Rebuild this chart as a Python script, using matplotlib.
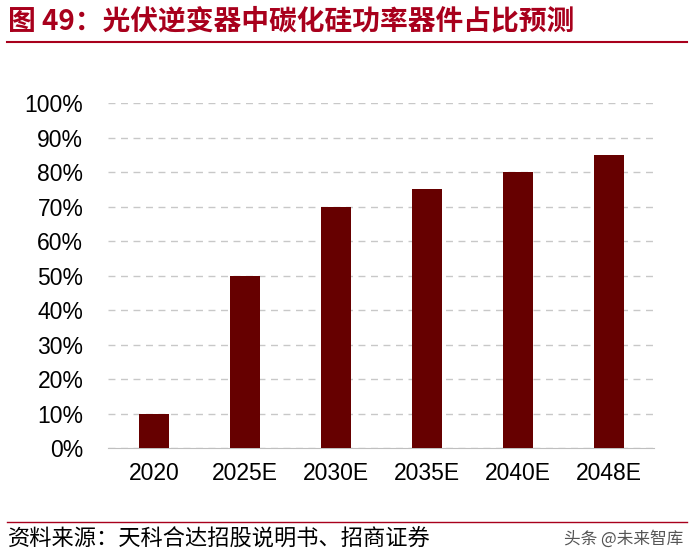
import matplotlib
matplotlib.use("Agg")
import matplotlib.pyplot as plt
from matplotlib.lines import Line2D

plt.rcParams['font.family'] = ['Noto Sans CJK SC', 'DejaVu Sans']

categories = ["2020", "2025E", "2030E", "2035E", "2040E", "2048E"]
values = [0.10, 0.50, 0.70, 0.75, 0.80, 0.85]
yticks = [i / 10 for i in range(11)]

fig = plt.figure(figsize=(6.94, 5.54), dpi=100)
ax = fig.add_axes([0.156, 0.191, 0.787, 0.623])
x = range(len(categories))
ax.bar(x, values, width=0.33, color="#660000", zorder=3)
ax.set_xlim(-0.5, 5.5)
ax.set_ylim(0, 1.0)
ax.set_yticks(yticks)
ax.set_yticklabels([f"{int(round(v*100))}%" for v in yticks], family="Liberation Sans", fontsize=16.5)
ax.set_xticks(list(x))
ax.set_xticklabels(categories, family="Liberation Sans", fontsize=16.5)
ax.yaxis.grid(True, linestyle=(0, (5, 4)), color="#c8c8c8", linewidth=1, zorder=0)
for s in ["top", "right", "left"]:
    ax.spines[s].set_visible(False)
ax.spines["bottom"].set_color("#bfbfbf")
ax.tick_params(axis="y", length=0, pad=18)
ax.tick_params(axis="x", length=0, pad=10)

fig.text(0.012, 0.962, "图 49：光伏逆变器中碳化硅功率器件占比预测", color="#a8001c",
         fontsize=20, fontweight="bold", va="center")
fig.add_artist(Line2D([0.01, 0.99], [0.925, 0.925], color="#a8001c", linewidth=1.5))
fig.add_artist(Line2D([0.01, 0.99], [0.058, 0.058], color="#a8001c", linewidth=1.0))
fig.text(0.012, 0.027, "资料来源：天科合达招股说明书、招商证券", fontsize=16, va="center", color="#000000")
fig.text(0.985, 0.027, "头条 @未来智库", fontsize=12, va="center", ha="right", color="#555555")

fig.savefig("out.png", dpi=100)
